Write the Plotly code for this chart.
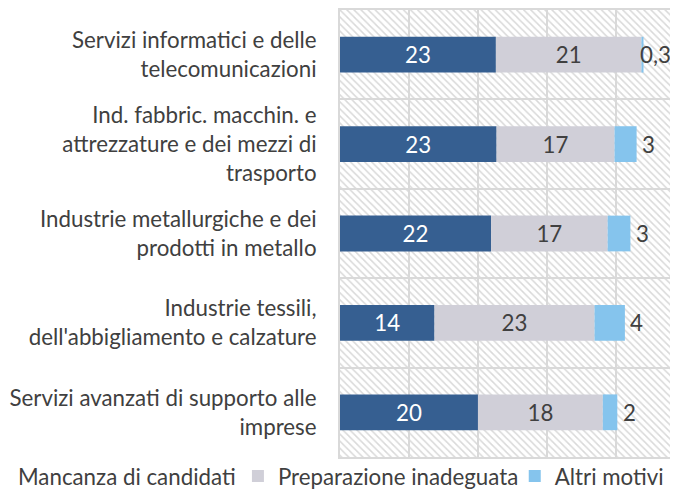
import plotly.graph_objects as go

## Dati:
# ======================================
categorie = [
    "Servizi informatici e delle<br>telecomunicazioni",
    "Ind. fabbric. macchin. e<br>attrezzature e dei mezzi di<br>trasporto",
    "Industrie metallurgiche e dei<br>prodotti in metallo",
    "Industrie tessili,<br>dell'abbigliamento e calzature",
    "Servizi avanzati di supporto alle<br>imprese",
]
mancanza = [22.6, 22.7, 21.9, 13.7, 20.0]
preparazione = [21.1, 17.1, 16.9, 23.2, 18.1]
altri = [0.3, 3.2, 3.3, 4.4, 2.1]

serie = [
    ("Mancanza di candidati", mancanza, "#365F91", "white"),
    ("Preparazione inadeguata", preparazione, "#D0CFD8", "#404040"),
    ("Altri motivi", altri, "#85C4ED", "#404040"),
]

X_MAX = 49
FONT = "Lato"
SIZE = 22.3
# la pagina html ha un margine di 8 px: figura 670x484
LEGEND_X = [-1.071, -0.302, 0.517]   # una legenda per serie (paper)


def etichetta(v):
    # valori < 1 con una decimale (virgola), altrimenti intero
    if v < 1:
        return f"{v:.1f}".replace(".", ",")
    return f"{v:.0f}"


fig = go.Figure()

## Sfondo tratteggiato:
# --------------------------------------
fig.add_trace(go.Bar(
    x=[X_MAX] * len(categorie),
    y=categorie,
    base=0,
    orientation="h",
    width=1,
    marker=dict(color="#D9D9D9", line=dict(width=0),
                pattern=dict(shape="\\", size=5, solidity=0.3, fillmode="replace")),
    hoverinfo="skip",
    showlegend=False,
))

## Barre impilate:
# --------------------------------------
base = [0] * len(categorie)
for i, (nome, valori, colore, col_testo) in enumerate(serie):
    ultimo = i == len(serie) - 1
    fig.add_trace(go.Bar(
        x=valori,
        y=categorie,
        base=list(base),
        orientation="h",
        width=0.4,
        name=nome,
        legend="legend" if i == 0 else f"legend{i + 1}",
        marker=dict(color=colore, line=dict(width=0)),
        text=None if ultimo else [etichetta(v) for v in valori],
        textposition="inside",
        insidetextanchor="middle",
        textangle=0,
        textfont=dict(family=FONT, size=SIZE, color=col_testo),
        constraintext="none",
        hoverinfo="skip",
    ))
    base = [b + v for b, v in zip(base, valori)]

# etichette "Altri motivi" alla fine della barra
for cat, tot, v in zip(categorie, base, altri):
    fig.add_annotation(
        x=tot, y=cat, xref="x", yref="y",
        text=etichetta(v), showarrow=False,
        xanchor="center", xshift=12,
        font=dict(family=FONT, size=SIZE, color="#404040"),
    )

## Layout:
# --------------------------------------
leg = dict(
    orientation="h", xref="paper", yref="container",
    y=0.033, xanchor="left", yanchor="middle",
    font=dict(family=FONT, size=SIZE, color="#404040"),
    bgcolor="rgba(0,0,0,0)",
)
fig.update_layout(
    width=670, height=484,
    margin=dict(l=332, r=0, t=2, b=35, autoexpand=False),
    barmode="overlay",
    plot_bgcolor="white", paper_bgcolor="white",
    font=dict(family=FONT, size=SIZE, color="#404040"),
    legend=dict(leg, x=LEGEND_X[0]),
    legend2=dict(leg, x=LEGEND_X[1]),
    legend3=dict(leg, x=LEGEND_X[2]),
)
fig.update_xaxes(
    range=[0, X_MAX], dtick=10, showticklabels=False, automargin=False,
    showgrid=True, gridcolor="#D9D9D9", gridwidth=2, zeroline=False,
    showline=True, mirror=True, linecolor="#D9D9D9", linewidth=2,
)
fig.update_yaxes(
    autorange="reversed", tickson="boundaries", ticks="", automargin=False,
    showgrid=True, gridcolor="#D9D9D9", gridwidth=2,
    showline=True, linecolor="#D9D9D9", linewidth=2,
    ticklabelstandoff=17,
    tickfont=dict(family=FONT, size=SIZE, color="#404040"),
)

fig.write_html("out.html")
